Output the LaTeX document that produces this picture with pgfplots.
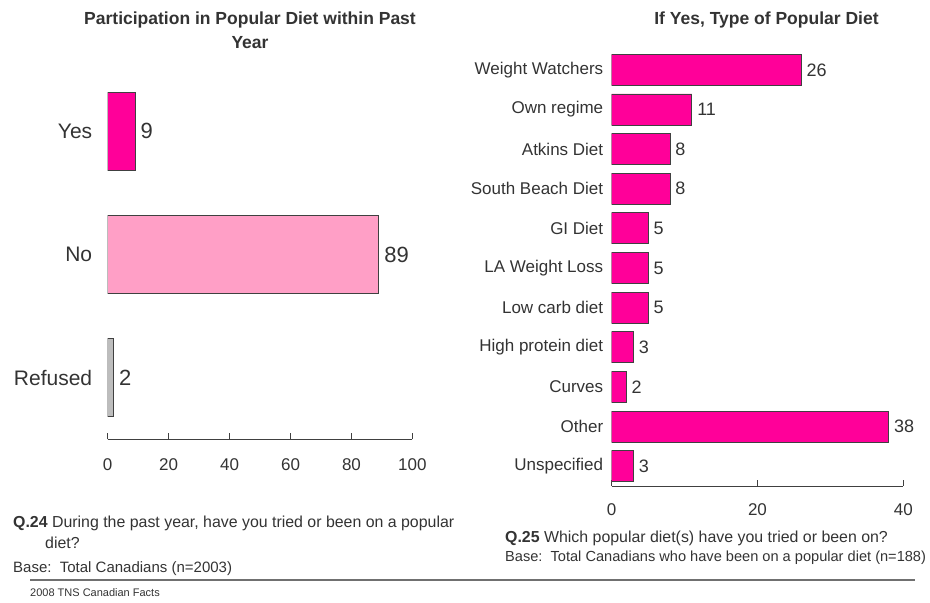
\documentclass[border=0pt]{standalone}
\usepackage{pgfplots}
\pgfplotsset{compat=1.18}
\usepackage{fontspec}
\setmainfont{Liberation Sans}
\definecolor{pinkbar}{HTML}{FF0099}
\definecolor{lightpink}{HTML}{FF9FC6}
\definecolor{greybar}{HTML}{BDBDBD}
\definecolor{edgec}{HTML}{404040}
\definecolor{txt}{HTML}{333333}
\definecolor{rulec}{HTML}{707070}
\pgfplotsset{
  mybars/.style={
    scale only axis, xbar, 
    axis x line*=bottom, axis y line*=left,
    x axis line style={-, draw=edgec, line width=0.9pt},
    y axis line style={draw=none},
    ytick style={draw=none},
    xtick style={draw=edgec, line width=0.9pt},
    tick align=inside, major tick length=6pt,
    /pgf/number format/assume math mode=true,
    tick label style={text=txt},
    nodes near coords,
    every node near coord/.append style={text=txt, anchor=west, inner sep=0pt, xshift=5pt},
  }
}
\begin{document}
\begin{tikzpicture}[x=1pt,y=1pt]
\useasboundingbox (0,0) rectangle (930,603);
% left chart
\begin{axis}[mybars,
  at={(107.7pt,163.5pt)}, anchor=south west,
  width=304.7pt, height=370pt,
  bar width=78pt,
  xmin=0, xmax=100, ymin=-0.5, ymax=2.5,
  xtick={0,20,40,60,80,100},
  ytick={0,1,2}, yticklabels={Refused,No,Yes},
  xticklabel style={font=\fontsize{17}{20}\selectfont, yshift=-16pt},
  yticklabel style={font=\fontsize{21}{24}\selectfont, xshift=-12pt},
  every node near coord/.append style={font=\fontsize{22}{24}\selectfont},
]
\addplot[bar shift=0pt, fill=pinkbar, draw=edgec, line width=0.8pt] coordinates {(9,2)};
\addplot[bar shift=0pt, fill=lightpink, draw=edgec, line width=0.8pt] coordinates {(89,1)};
\addplot[bar shift=0pt, fill=greybar, draw=edgec, line width=0.8pt] coordinates {(2,0)};
\end{axis}
% right chart
\begin{axis}[mybars,
  at={(611.7pt,117pt)}, anchor=south west,
  width=291.6pt, height=436pt,
  bar width=31pt,
  xmin=0, xmax=40, ymin=-0.5, ymax=10.5,
  xtick={0,20,40},
  ytick={0,...,10},
  yticklabels={Unspecified,Other,Curves,High protein diet,Low carb diet,LA Weight Loss,GI Diet,South Beach Diet,Atkins Diet,Own regime,Weight Watchers},
  xticklabel style={font=\fontsize{17}{20}\selectfont, yshift=-14pt},
  yticklabel style={font=\fontsize{17}{20}\selectfont, xshift=-5pt},
  every node near coord/.append style={font=\fontsize{18}{20}\selectfont},
]
\addplot[bar shift=0pt, fill=pinkbar, draw=edgec, line width=0.8pt] coordinates {
(3,0) (38,1) (2,2) (3,3) (5,4) (5,5) (5,6) (8,7) (8,8) (11,9) (26,10)};
\end{axis}
% titles
\node[text=txt, font=\fontsize{17.5}{24}\selectfont\bfseries, align=center] at (250,573) {Participation in Popular Diet within Past\\Year};
\node[text=txt, font=\fontsize{17.5}{24}\selectfont\bfseries] at (766.5,583) {If Yes, Type of Popular Diet};
% footnotes
\node[text=txt, font=\fontsize{15.9}{18}\selectfont, anchor=west, inner sep=0pt] at (13,80) {\textbf{Q.24} During the past year, have you tried or been on a popular};
\node[text=txt, font=\fontsize{15.9}{18}\selectfont, anchor=west, inner sep=0pt] at (45,60) {diet?};
\node[text=txt, font=\fontsize{15}{17}\selectfont, anchor=west, inner sep=0pt] at (13,34) {Base:\ \ Total Canadians (n=2003)};
\node[text=txt, font=\fontsize{15.9}{18}\selectfont, anchor=west, inner sep=0pt] at (505,65) {\textbf{Q.25} Which popular diet(s) have you tried or been on?};
\node[text=txt, font=\fontsize{14.6}{17}\selectfont, anchor=west, inner sep=0pt] at (505,45) {Base:\ \ Total Canadians who have been on a popular diet (n=188)};
\draw[rulec, line width=1.5pt] (30,23) -- (915,23);
\node[text=txt, font=\fontsize{11}{13}\selectfont, anchor=west, inner sep=0pt] at (30,10) {2008 TNS Canadian Facts};
\end{tikzpicture}
\end{document}
